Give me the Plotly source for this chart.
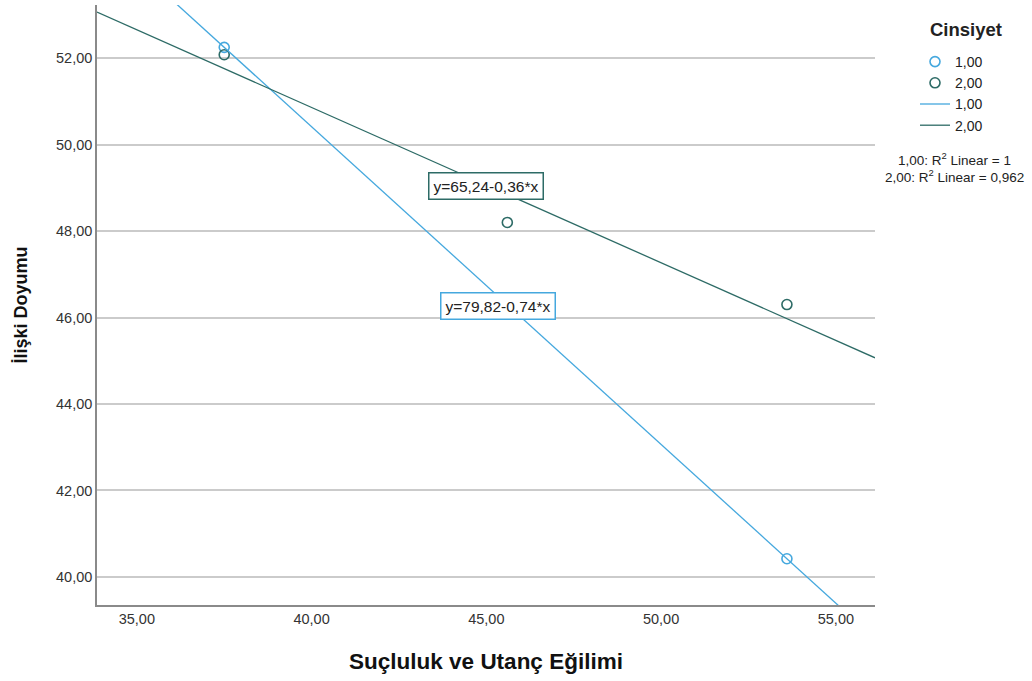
import numpy as np
import plotly.graph_objects as go

# Data
groups = ["1,00", "2,00"]
g1_x = [37.5, 53.6]
g1_y = [52.25, 40.42]
g2_x = [37.5, 45.6, 53.6]
g2_y = [52.08, 48.2, 46.3]
equations = ["y=79,82-0,74*x", "y=65,24-0,36*x"]
r2_labels = ["1,00: R<sup>2</sup> Linear = 1", "2,00: R<sup>2</sup> Linear = 0,962"]
legend_title = "Cinsiyet"
x_ticks = [35, 40, 45, 50, 55]
y_ticks = [40, 42, 44, 46, 48, 50, 52]

c1 = "#45A8DE"
c2 = "#2D6B66"

x_range = [33.86, 56.12]
y_range = [39.35, 53.23]

FONT = "Liberation Sans, Arial, sans-serif"

fig = go.Figure()

fig.add_trace(go.Scatter(x=g1_x, y=g1_y, mode="markers", name=groups[0],
                         marker=dict(symbol="circle-open", size=10, color=c1, line=dict(width=1.6)),
                         legendrank=1))
fig.add_trace(go.Scatter(x=g2_x, y=g2_y, mode="markers", name=groups[1],
                         marker=dict(symbol="circle-open", size=10, color=c2, line=dict(width=1.6)),
                         legendrank=2))

for xs, ys, col, nm, rk in [(g1_x, g1_y, c1, groups[0], 3), (g2_x, g2_y, c2, groups[1], 4)]:
    b, a = np.polyfit(xs, ys, 1)
    lx = np.array(x_range)
    fig.add_trace(go.Scatter(x=lx, y=a + b * lx, mode="lines", name=nm,
                             line=dict(color=col, width=1.3), legendrank=rk))

# Equation labels
fig.add_annotation(x=45.0, y=49.04, text=equations[1], showarrow=False,
                   font=dict(family=FONT, size=15.5, color="#222"),
                   bgcolor="white", bordercolor=c2, borderwidth=1.5, borderpad=4)
fig.add_annotation(x=45.33, y=46.26, text=equations[0], showarrow=False,
                   font=dict(family=FONT, size=15.5, color="#222"),
                   bgcolor="white", bordercolor=c1, borderwidth=1.5, borderpad=4)

# Legend title
fig.add_annotation(xref="paper", yref="paper", x=(928 - 97) / 778, y=(605 - 30) / 600,
                   text="<b>" + legend_title + "</b>", showarrow=False,
                   xanchor="left", yanchor="middle",
                   font=dict(family=FONT, size=18.5, color="#222"))

# R2 labels
fig.add_annotation(xref="paper", yref="paper", x=(955 - 97) / 778, y=(605 - 148) / 600,
                   text=r2_labels[0], showarrow=False, xanchor="center",
                   font=dict(family=FONT, size=13.5, color="#222"))
fig.add_annotation(xref="paper", yref="paper", x=(955 - 97) / 778, y=(605 - 165) / 600,
                   text=r2_labels[1], showarrow=False, xanchor="center",
                   font=dict(family=FONT, size=13.5, color="#222"))

fig.update_layout(
    width=1032, height=681,
    margin=dict(l=97, r=157, t=5, b=76, autoexpand=False),
    paper_bgcolor="white", plot_bgcolor="white",
    separators=",.",
    font=dict(family=FONT, color="#222"),
    showlegend=True,
    legend=dict(x=(915 - 97) / 778, y=(605 - 46) / 600, xanchor="left", yanchor="top",
                font=dict(size=14, color="#222"), tracegroupgap=0, itemwidth=30,
                bgcolor="rgba(0,0,0,0)"),
    xaxis=dict(range=x_range, tickvals=x_ticks, tickformat=".2f", showgrid=False,
               zeroline=False, showline=True, linecolor="#8a8a8a", linewidth=1.5,
               ticks="", tickfont=dict(size=14.5, color="#333"), automargin=False,
               title=dict(text="<b>Suçluluk ve Utanç Eğilimi</b>", standoff=27,
                          font=dict(size=22.5, color="#111"))),
    yaxis=dict(range=y_range, tickvals=y_ticks, tickformat=".2f", showgrid=True,
               gridcolor="#cbcbcb", gridwidth=1.5, zeroline=False, showline=True,
               linecolor="#8a8a8a", linewidth=1.5, ticks="", automargin=False,
               tickfont=dict(size=14.5, color="#333"),
               title=dict(text="<b>İlişki Doyumu</b>", standoff=24,
                          font=dict(size=18, color="#111"))),
)

fig.write_html("out.html", config={"displayModeBar": False},
               post_script="document.body.style.margin='0';")
